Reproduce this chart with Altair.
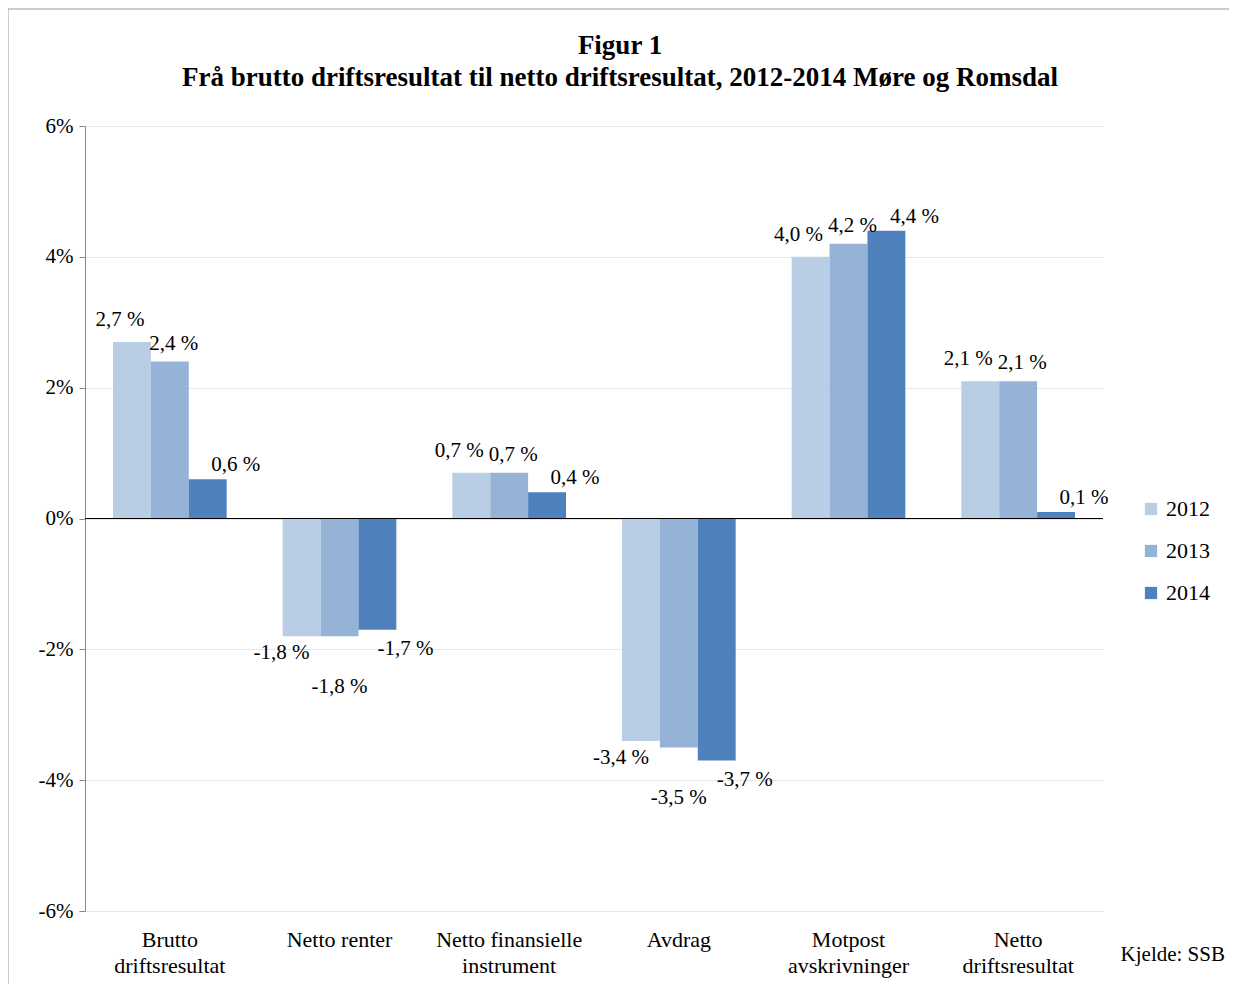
import altair as alt
import pandas as pd

categories = ["Brutto|driftsresultat", "Netto renter", "Netto finansielle|instrument",
              "Avdrag", "Motpost|avskrivninger", "Netto|driftsresultat"]
years = ["2012", "2013", "2014"]
v2012 = [2.7, -1.8, 0.7, -3.4, 4.0, 2.1]
v2013 = [2.4, -1.8, 0.7, -3.5, 4.2, 2.1]
v2014 = [0.6, -1.7, 0.4, -3.7, 4.4, 0.1]
colors = ["#B9CDE5", "#95B3D7", "#4F81BD"]

rows = []
for yr, vals in zip(years, [v2012, v2013, v2014]):
    for c, v in zip(categories, vals):
        rows.append({"kategori": c, "år": yr, "verdi": v,
                     "tekst": f"{v:.1f} %".replace(".", ",")})
df = pd.DataFrame(rows)

FONT = "Liberation Serif"
W, H = 1018, 785

x = alt.X("kategori:N", sort=categories, title=None,
          scale=alt.Scale(paddingInner=0.33, paddingOuter=0.165),
          axis=alt.Axis(labelExpr="split(datum.label, '|')", labelAngle=0,
                        domain=False, ticks=False, labelPadding=18,
                        labelFontSize=22, labelColor="black", labelFont=FONT,
                        labelLineHeight=26))
y = alt.Y("verdi:Q", title=None,
          scale=alt.Scale(domain=[-6, 6], nice=False),
          axis=alt.Axis(values=[-6, -4, -2, 0, 2, 4, 6], labelExpr="datum.value + '%'",
                        gridColor="#E6E6E6", domainColor="#888888", tickColor="#888888",
                        labelFontSize=21, labelColor="black", labelFont=FONT,
                        labelPadding=6))

base = alt.Chart(df)
bars = base.mark_bar().encode(
    x=x, y=y, xOffset=alt.XOffset("år:N", sort=years),
    color=alt.Color("år:N", scale=alt.Scale(domain=years, range=colors),
                    legend=alt.Legend(title=None, orient="none", legendX=1055, legendY=372,
                                      labelFontSize=22, labelFont=FONT, labelColor="black",
                                      symbolType="square", symbolSize=150,
                                      symbolStrokeWidth=0, rowPadding=20)),
)

zero = alt.Chart(pd.DataFrame({"verdi": [0]})).mark_rule(color="black", strokeWidth=1.2).encode(
    y="verdi:Q")

# per-year label offsets (positive bars, negative bars), like the staggered Excel labels
offsets = {"2012": ((-12, -12), (-20, 6)),
           "2013": ((4, -8), (0, 40)),
           "2014": ((28, -4), (28, 8))}
labels = []
for yr in years:
    sub = base.transform_filter(alt.datum["år"] == yr)
    for pos, (dx, dy) in zip([True, False], offsets[yr]):
        s = sub.transform_filter(alt.datum.verdi >= 0 if pos else alt.datum.verdi < 0)
        labels.append(s.mark_text(font=FONT, fontSize=21, color="black", dx=dx, dy=dy,
                                  baseline="bottom" if pos else "top").encode(
            x=x, y=y, xOffset=alt.XOffset("år:N", sort=years,
                                           scale=alt.Scale(domain=years)),
            text="tekst:N"))

border = alt.Chart(pd.DataFrame({"a": [0]})).mark_rect(
    fill=None, stroke="#999999", strokeWidth=1).encode(
    x=alt.value(-77), x2=alt.value(W + 127), y=alt.value(-117), y2=alt.value(H + 80))

title = alt.Chart(pd.DataFrame({"t": ["Figur 1",
                                      "Frå brutto driftsresultat til netto driftsresultat, 2012-2014 Møre og Romsdal"],
                                "yy": [-80, -48]})).mark_text(
    font=FONT, fontSize=27, fontWeight="bold", color="black", align="center",
    baseline="middle").encode(x=alt.value(535), y=alt.Y("yy:Q", scale=None), text="t:N")

source = alt.Chart(pd.DataFrame({"t": ["Kjelde: SSB"]})).mark_text(
    font=FONT, fontSize=21, color="black", align="right", baseline="middle").encode(
    x=alt.value(W + 122), y=alt.value(H + 44), text="t:N")

chart = alt.layer(border, bars, zero, *labels, title, source).properties(
    width=W, height=H,
    autosize="none",
    padding={"left": 77, "top": 118, "right": 126, "bottom": 73},
).configure_view(stroke=None).configure_axis(labelFont=FONT).configure_axisY(tickSize=6)

chart.save("out.html", embed_options={"renderer": "svg", "actions": False})
